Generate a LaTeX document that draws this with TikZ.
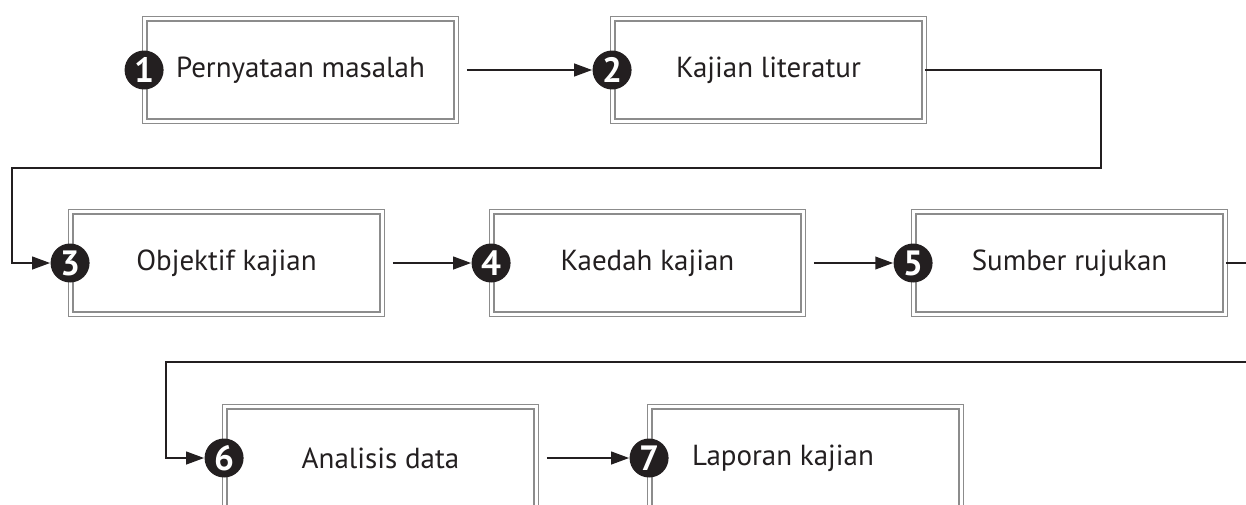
\documentclass[tikz,border=0pt]{standalone}
\usepackage{fontspec}
\setmainfont{PT Sans}
\usetikzlibrary{arrows.meta}
\definecolor{ink}{HTML}{231F20}
\tikzset{
  >={Triangle[length=0.36cm,width=0.25cm]},
  bx/.style={draw=black!45,double=white,double distance=0.06cm,line width=0.028cm,minimum width=6.23cm,minimum height=2.05cm,inner sep=0pt,text=ink,font=\fontsize{16.5}{19}\selectfont},
  num/.style={circle,fill=ink,text=white,minimum size=0.78cm,inner sep=0pt,font=\bfseries\fontsize{20}{22}\selectfont},
  lk/.style={->,draw=ink,line width=0.048cm,shorten <=0.2cm},
  ln/.style={->,draw=ink,line width=0.048cm},
}
\begin{document}
\begin{tikzpicture}[x=0.02cm,y=-0.02cm]
\useasboundingbox (0,0) rectangle (1246,504); \clip (0,0) rectangle (1246,504);
\node[bx] (b1) at (300.5,70){Pernyataan masalah}; \node[bx] (b2) at (768.5,70){Kajian literatur};
\node[bx] (b3) at (226.5,263){Objektif kajian}; \node[bx] (b4) at (647.5,263){Kaedah kajian};
\node[bx] (b5) at (1069.5,263){Sumber rujukan};
\node[bx] (b6) at (380.5,458){Analisis data}; \node[bx] (b7) at (805.5,458){Laporan kajian\hspace*{0.9cm}};
\node[num] (n1) at (b1.west){1}; \node[num] (n2) at (b2.west){2}; \node[num] (n3) at (b3.west){3};
\node[num] (n4) at (b4.west){4}; \node[num] (n5) at (b5.west){5}; \node[num] (n6) at (b6.west){6};
\node[num] (n7) at (b7.west){7};
\draw[lk] (b1.east)--(n2); \draw[lk] (b3.east)--(n4); \draw[lk] (b4.east)--(n5); \draw[lk] (b6.east)--(n7);
\draw[ln] (b2.east)-|(1101,168)--(12,168)|-(n3);
\draw[ln] (b5.east)-|(1270,362)--(166,362)|-(n6);
\end{tikzpicture}
\end{document}
